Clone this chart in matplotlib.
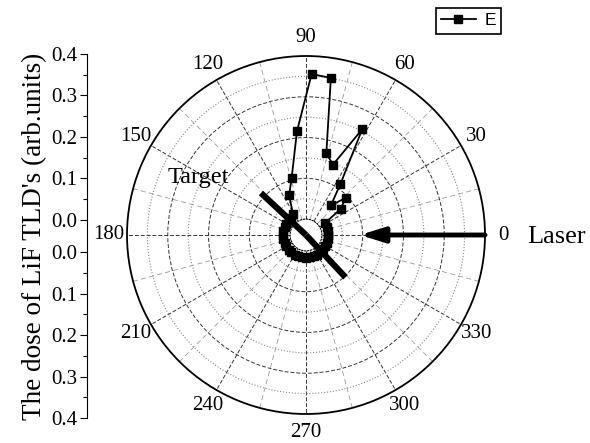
import numpy as np
import matplotlib
matplotlib.use("Agg")
import matplotlib.pyplot as plt
from matplotlib.lines import Line2D

plt.rcParams['font.family'] = ['Liberation Serif', 'DejaVu Serif']

# measured dose vs. angle (deg), series E
angle_deg = [0, 10, 20, 32, 37, 43, 50, 56, 62, 69, 76, 81, 88, 95, 104, 113, 122,
             130, 140, 150, 160, 170, 180, 190, 200, 210, 220, 230, 240, 250,
             260, 270, 280, 290, 300, 310, 320, 330, 340, 350, 360]
dose = [0.015, 0.015, 0.015, 0.016, 0.067, 0.094, 0.056, 0.112, 0.255, 0.146,
        0.167, 0.351, 0.356, 0.216, 0.106, 0.067, 0.021,
        0.017, 0.017, 0.017, 0.017, 0.018, 0.018, 0.018, 0.017, 0.017, 0.017,
        0.017, 0.017, 0.017, 0.017, 0.017, 0.017, 0.017, 0.017, 0.016, 0.016,
        0.016, 0.016, 0.015, 0.015]

theta_ticks = [0, 30, 60, 90, 120, 150, 180, 210, 240, 270, 300, 330]
theta_minor = [15, 45, 75, 105, 135, 165, 195, 225, 255, 285, 315, 345]
r_major = [0.1, 0.2, 0.3]
r_minor = [0.05, 0.15, 0.25, 0.35]
r_labels = [0.0, 0.1, 0.2, 0.3, 0.4]

r_max = 0.4
r_hole = -0.039     # inner hole of the polar plot

# annotation geometry
laser_angle, laser_r0, laser_r1 = 0, 0.4, 0.093
target_a1, target_a2, target_r1, target_r2 = 137, 313, 0.112, 0.103

fig = plt.figure(figsize=(5.9, 4.43), dpi=100)

ax = fig.add_axes([127/590, 1-414/443, 358/590, 358/443], projection='polar')
ax.set_rlim(0, r_max)
ax.set_rorigin(r_hole)

th = np.deg2rad(angle_deg)
line, = ax.plot(th, dose, '-s', color='black', lw=1.3, ms=5.5, clip_on=False, zorder=4)

ax.set_xticks(np.deg2rad(theta_ticks))
ax.set_xticklabels([str(t) for t in theta_ticks], fontsize=15)
ax.set_xticks(np.deg2rad(theta_minor), minor=True)
ax.set_yticks(r_major)
ax.set_yticks(r_minor, minor=True)
ax.set_yticklabels([])
ax.tick_params(axis='x', which='both', direction='in', length=5, pad=6)
ax.tick_params(axis='y', which='both', length=0)

ax.grid(which='major', axis='both', color='#333333', ls=(0, (4, 2)), lw=0.7)
ax.grid(which='minor', axis='x', color='#999999', ls=(0, (6, 4)), lw=0.6)
ax.grid(which='minor', axis='y', color='#888888', ls=':', lw=0.8)
ax.spines['polar'].set_linewidth(1.3)
ax.spines['inner'].set_linestyle(':')
ax.spines['inner'].set_linewidth(0.8)

# laser arrow
ax.annotate('', xy=(np.deg2rad(laser_angle), laser_r1),
            xytext=(np.deg2rad(laser_angle), laser_r0), annotation_clip=False,
            arrowprops=dict(arrowstyle='-|>,head_length=0.8,head_width=0.25', lw=3.5,
                            color='black', mutation_scale=18, shrinkA=0, shrinkB=0))
# target line through the centre
ax.plot([np.deg2rad(target_a1)] * 2, [r_hole, target_r1], color='black', lw=4.5,
        solid_capstyle='butt', clip_on=False, zorder=5)
ax.plot([np.deg2rad(target_a2)] * 2, [r_hole, target_r2], color='black', lw=4.5,
        solid_capstyle='butt', clip_on=False, zorder=5)

fig.text(168/590, 1-177/443, 'Target', fontsize=17.5, ha='left', va='center')
fig.text(527/590, 1-237/443, 'Laser', fontsize=19, ha='left', va='center')

# left dose axis (mirrors the radial scale)
ay = fig.add_axes([87/590, 1-418/443, 0.01, 364/443])
ay.set_ylim(-(r_max - r_hole), r_max - r_hole)
ay.patch.set_visible(False)
for s in ['top', 'right', 'bottom']:
    ay.spines[s].set_visible(False)
ay.set_xticks([])
up = [v - r_hole for v in r_labels]
down = [-(v - r_hole) for v in r_labels]
ay.set_yticks(up + down)
ay.set_yticklabels(['%.1f' % v for v in r_labels] * 2, fontsize=15)
ay.set_yticks([v - r_hole for v in r_minor] + [-(v - r_hole) for v in r_minor], minor=True)
ay.tick_params(axis='y', which='major', length=5, width=0.8, pad=2)
ay.tick_params(axis='y', which='minor', length=3, width=0.8)
ay.set_ylabel("The dose of LiF TLD's (arb.units)", fontsize=19.5, labelpad=3)

handle = Line2D([], [], color='black', marker='s', lw=1.3, ms=5.5)
leg = fig.legend([handle], ['E'], loc='upper right', bbox_to_anchor=(501/590, 1-8/443),
                 prop={'family': 'Liberation Sans', 'size': 12.5}, fancybox=False,
                 edgecolor='black', framealpha=1, handlelength=2.0, borderpad=0.3,
                 handletextpad=0.5, borderaxespad=0)
leg.get_frame().set_linewidth(1.2)

fig.savefig('out.png', dpi=100)
